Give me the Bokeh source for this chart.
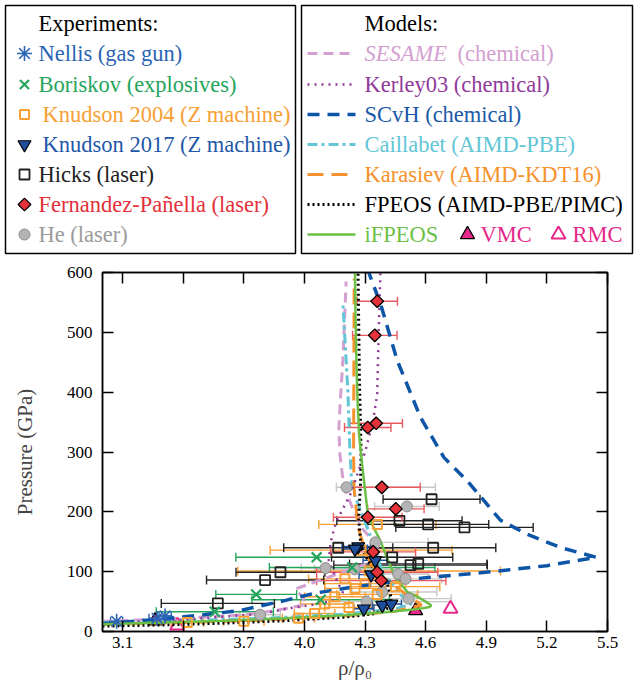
import numpy as np
from bokeh.plotting import figure
from bokeh.models import Range1d, LinearAxis, FixedTicker, NumeralTickFormatter
from bokeh.embed import file_html
from bokeh.resources import INLINE
from bokeh.core.properties import value

FONT = "Liberation Serif"

# ---------------- experimental Hugoniot data (rho/rho0, pressure in GPa, error in rho/rho0)
nellis_rho = [3.07, 3.27, 3.31]
nellis_p = [17, 22, 26]
nellis_err = [0.03, 0.04, 0.03]

boriskov_rho = [3.556, 3.761, 4.06, 4.08, 4.236]
boriskov_p = [33, 62, 124, 53, 107]
boriskov_err = [0.29, 0.20, 0.40, 0.34, 0.41]

knudson04_rho = [4.361, 4.28, 4.32, 4.20, 4.30, 4.25, 4.36, 4.15, 4.45, 4.10, 4.22, 4.05, 3.97, 3.70, 3.42]
knudson04_p = [179, 136, 101, 88, 80, 72, 62, 58, 75, 46, 40, 30, 22, 17, 15]
knudson04_err = [0.29, 0.45, 0.65, 0.18, 0.20, 0.15, 0.20, 0.15, 0.22, 0.12, 0.12, 0.10, 0.08, 0.10, 0.08]

knudson17_rho = [4.266, 4.25, 4.35, 4.33, 4.294, 4.385, 4.43]
knudson17_p = [142, 138, 119, 95, 38, 44, 46]
knudson17_err = [0.08, 0.06, 0.06, 0.06, 0.05, 0.05, 0.05]

hicks_rho = [3.571, 3.805, 3.881, 4.167, 4.434, 4.525, 4.563, 4.637, 4.47, 4.612, 4.792, 4.629]
hicks_p = [47, 86, 99, 140, 124, 111, 113, 140, 185, 179, 174, 221]
hicks_err = [0.28, 0.29, 0.22, 0.27, 0.30, 0.38, 0.34, 0.31, 0.31, 0.30, 0.34, 0.24]

fp_rho = [4.36, 4.348, 4.355, 4.313, 4.383, 4.452, 4.313, 4.34, 4.36, 4.38]
fp_p = [552, 495, 348, 341, 241, 205, 191, 133, 99, 85]
fp_err = [0.10, 0.11, 0.13, 0.115, 0.19, 0.14, 0.17, 0.21, 0.30, 0.32]

he_rho = [4.208, 4.507, 4.351, 4.104, 4.249, 4.464, 4.50, 4.385, 4.516, 4.307, 3.78]
he_p = [241, 209, 149, 106, 104, 96, 88, 66, 55, 50, 28]
he_err_lo = [0.05, 0.16, 0.02, 0.12, 0.20, 0.15, 0.18, 0.15, 0.20, 0.18, 0.10]
he_err_hi = [0.44, 0.16, 0.26, 0.12, 0.20, 0.15, 0.18, 0.27, 0.21, 0.42, 0.10]

vmc_rho = [3.26, 4.55]
vmc_p = [18, 35]
rmc_rho = [3.37, 4.723]
rmc_p = [10, 38]

# ---------------- model Hugoniot curves
sesame_rho = [3.0, 3.3, 3.5, 3.7, 3.8, 3.906, 4.005, 3.99, 3.955, 4.07, 4.17, 4.26, 4.32, 4.36, 4.37, 4.33,
              4.286, 4.236, 4.195, 4.175, 4.17, 4.18, 4.19, 4.206]
sesame_p = [17, 21, 24, 28, 32, 38, 45, 58, 71, 85, 97, 107, 115, 125, 135, 155,
            172, 208, 241, 297, 340, 400, 453, 585]

kerley_rho = [3.0, 3.4, 3.8, 3.906, 4.07, 4.17, 4.19, 4.17, 4.153, 4.12, 4.13, 4.153, 4.178, 4.228, 4.30,
              4.34, 4.36, 4.368, 4.376]
kerley_p = [14, 20, 30, 38, 46, 55, 65, 78, 91, 119, 150, 180, 197, 230, 300, 353, 397, 509, 600]

scvh_rho = [3.0, 3.3, 3.5, 3.68, 3.906, 4.05, 4.236, 4.54, 4.87, 5.2, 5.446, 5.27, 5.1, 4.97, 4.805, 4.69,
            4.574, 4.459, 4.376, 4.318]
scvh_p = [13, 21, 28, 35, 52, 64, 74, 88, 98, 110, 124, 140, 163, 186, 252, 291, 358, 453, 548, 600]

caill_rho = [3.0, 3.4, 3.8, 4.2, 4.45, 4.53, 4.48, 4.434, 4.39, 4.335, 4.277, 4.235, 4.225, 4.215, 4.19]
caill_p = [15, 18, 22, 29, 38, 46, 60, 80, 95, 152, 202, 240, 300, 400, 550]

karas_rho = [3.0, 3.4, 3.8, 4.2, 4.45, 4.58, 4.56, 4.51, 4.465, 4.40, 4.34, 4.30, 4.265, 4.245, 4.243, 4.244,
             4.245, 4.246]
karas_p = [12, 15, 19, 26, 34, 44, 49, 60, 72, 88, 105, 135, 175, 240, 300, 400, 500, 590]

fpeos_rho = [3.0, 3.3, 3.6, 3.9, 4.2, 4.35, 4.42, 4.43, 4.41, 4.33, 4.28, 4.268, 4.278, 4.28, 4.272, 4.265]
fpeos_p = [9, 11, 14, 18, 24, 30, 40, 55, 80, 110, 140, 190, 250, 300, 420, 600]

ifpeos_rho = [3.0, 3.3, 3.6, 3.9, 4.2, 4.4, 4.55, 4.62, 4.627, 4.6, 4.57, 4.51, 4.45, 4.41, 4.375, 4.315,
              4.30, 4.285, 4.27, 4.262, 4.257, 4.253, 4.25]
ifpeos_p = [12, 15, 18, 22, 27, 32, 37, 41, 44, 50, 56, 66, 90, 122, 152, 192, 236, 280, 330, 390, 450, 520, 600]

x_ticks = [3.1, 3.4, 3.7, 4.0, 4.3, 4.6, 4.9, 5.2, 5.5]
y_ticks = [0, 100, 200, 300, 400, 500, 600]

exp_labels = ["Nellis (gas gun)", "Boriskov (explosives)", "Knudson 2004 (Z machine)",
              "Knudson 2017 (Z machine)", "Hicks (laser)", "Fernandez-Pañella (laser)", "He (laser)"]
model_labels = ["Kerley03 (chemical)", "SCvH (chemical)", "Caillabet (AIMD-PBE)",
                "Karasiev (AIMD-KDT16)", "FPEOS (AIMD-PBE/PIMC)", "iFPEOS"]

# ---------------- colours
C_NELLIS = "#2a64b4"
C_BORISKOV = "#25a55c"
C_KN04 = "#f7a035"
C_KN17 = "#1d4f9e"
C_HICKS = "#222222"
C_FP = "#e4313a"
C_HE = "#9b9b9b"
C_SESAME = "#d4a0d0"
C_KERLEY = "#913a99"
C_SCVH = "#0d55a6"
C_CAILL = "#62c6d6"
C_KARAS = "#f5922d"
C_FPEOS = "black"
C_IFPEOS = "#6cbf45"
C_QMC = "#e6288a"

# line styles shared by the curves and their key entries
ST_SESAME = dict(line_color=C_SESAME, line_width=3, line_dash="10 6")
ST_KERLEY = dict(line_color=C_KERLEY, line_width=2.5, line_dash="2 5")
ST_SCVH = dict(line_color=C_SCVH, line_width=3.5, line_dash="12 8")
ST_CAILL = dict(line_color=C_CAILL, line_width=3, line_dash="10 4 3 4")
ST_KARAS = dict(line_color=C_KARAS, line_width=3, line_dash="16 8")
ST_FPEOS = dict(line_color=C_FPEOS, line_width=3, line_dash="2 3")
ST_IFPEOS = dict(line_color=C_IFPEOS, line_width=2.5)

# ---------------- main panel
p = figure(frame_width=505, frame_height=359, x_range=Range1d(3.0, 5.5), y_range=Range1d(0, 600),
           output_backend="svg", toolbar_location=None,
           min_border_left=102, min_border_right=29, min_border_top=12, min_border_bottom=65,
           x_axis_label="ρ/ρ₀", y_axis_label="Pressure (GPa)")
p.grid.visible = False
p.outline_line_color = "black"
p.outline_line_width = 1.5

p.xaxis.ticker = FixedTicker(ticks=x_ticks)
p.yaxis.ticker = FixedTicker(ticks=y_ticks)
p.xaxis.formatter = NumeralTickFormatter(format="0.0")
p.add_layout(LinearAxis(ticker=FixedTicker(ticks=x_ticks)), "above")
p.add_layout(LinearAxis(ticker=FixedTicker(ticks=y_ticks)), "right")

for ax in p.axis:
    ax.major_tick_in = 11
    ax.major_tick_out = 0
    ax.minor_tick_line_color = None
    ax.axis_line_width = 1.5
    ax.major_tick_line_width = 1.5
    ax.major_label_text_font = FONT
    ax.major_label_text_font_size = "17px"
    ax.major_label_text_color = "black"
    ax.axis_label_text_font = FONT
    ax.axis_label_text_font_size = "21px"
    ax.axis_label_text_font_style = "normal"

# mirror axes on top and right carry ticks only
for ax in p.above + p.right:
    ax.major_label_text_color = None
    ax.major_label_text_font_size = "1px"
    ax.major_label_standoff = 0

p.xaxis[0].major_label_standoff = 21
p.xaxis[0].axis_label_standoff = 9
p.xaxis[0].axis_label_text_font_size = "24px"
p.xaxis[0].axis_label_text_font_style = "italic"
p.yaxis[0].major_label_standoff = 10
p.yaxis[0].axis_label_standoff = 27


def errbars(rho, pres, lo, hi, color, width=1.4):
    rho = np.asarray(rho, float)
    x0 = rho - np.asarray(lo, float)
    x1 = rho + np.asarray(hi, float)
    p.segment(x0=x0, y0=pres, x1=x1, y1=pres, line_color=color, line_width=width)
    p.scatter(x=np.concatenate([x0, x1]), y=list(pres) + list(pres), marker="dash",
              angle=np.pi / 2, size=9, line_color=color, line_width=width)


errbars(he_rho, he_p, he_err_lo, he_err_hi, "#c8c8c8")
errbars(knudson04_rho, knudson04_p, knudson04_err, knudson04_err, C_KN04)
errbars(boriskov_rho, boriskov_p, boriskov_err, boriskov_err, C_BORISKOV)
errbars(hicks_rho, hicks_p, hicks_err, hicks_err, C_HICKS)
errbars(fp_rho, fp_p, fp_err, fp_err, "#e85a5f")
errbars(knudson17_rho, knudson17_p, knudson17_err, knudson17_err, C_KN17)
errbars(nellis_rho, nellis_p, nellis_err, nellis_err, C_NELLIS)

# quantum Monte Carlo points sit underneath the model curves
p.scatter(vmc_rho, vmc_p, marker="triangle", size=14, fill_color=C_QMC, line_color="black", line_width=1.3)
p.scatter(rmc_rho, rmc_p, marker="triangle", size=14, fill_color="white", line_color=C_QMC, line_width=2)

# model curves
p.line(sesame_rho, sesame_p, **ST_SESAME)
p.line(caill_rho, caill_p, **ST_CAILL)
p.line(karas_rho, karas_p, **ST_KARAS)
p.line(kerley_rho, kerley_p, **ST_KERLEY)
p.line(fpeos_rho, fpeos_p, **ST_FPEOS)
p.line(scvh_rho, scvh_p, **ST_SCVH)
p.line(ifpeos_rho, ifpeos_p, **ST_IFPEOS)

# measured points
p.scatter(he_rho, he_p, marker="circle", size=11, fill_color="#b4b4b4", line_color="#8c8c8c", line_width=1)
p.scatter(knudson04_rho, knudson04_p, marker="square", size=9, fill_color=None, line_color=C_KN04, line_width=2)
p.scatter(hicks_rho, hicks_p, marker="square", size=10, fill_color=None, line_color=C_HICKS, line_width=1.8)
p.scatter(boriskov_rho, boriskov_p, marker="x", size=14, line_color=C_BORISKOV, line_width=2.2)
p.scatter(nellis_rho, nellis_p, marker="asterisk", size=15, line_color=C_NELLIS, line_width=1.6)
p.scatter(knudson17_rho, knudson17_p, marker="inverted_triangle", size=13, fill_color=C_KN17, line_color="black", line_width=1.2)
p.scatter(fp_rho, fp_p, marker="square", angle=np.pi / 4, size=9, fill_color=C_FP, line_color="black", line_width=1.3)

# ---------------- key panel (pixel coordinates, y downwards)
leg = figure(width=636, height=260, x_range=Range1d(0, 636), y_range=Range1d(260, 0),
             output_backend="svg", toolbar_location=None, min_border=0,
             x_axis_type=None, y_axis_type=None)
leg.grid.visible = False
leg.outline_line_color = None

leg.quad(left=[5, 301], right=[295, 632], top=[5, 5], bottom=[253, 253],
         fill_color=None, line_color="black", line_width=1.5)

rows = [53, 84, 114, 144, 174, 204, 234]
txt = dict(text_font=value(FONT), text_font_size=value("22.5px"), text_baseline="middle", text_align="left")

exp_colors = [C_NELLIS, C_BORISKOV, C_KN04, "#1f58a8", "#222222", C_FP, C_HE]
exp_x = [38, 38, 42, 42, 38, 38, 38]
model_colors = [C_KERLEY, "#1a5aa8", C_CAILL, C_KARAS, "black", C_IFPEOS]

leg.text(x=[38, 364], y=[23, 23], text=["Experiments:", "Models:"], text_color="black", **txt)
leg.text(x=exp_x, y=rows, text=exp_labels, text_color=exp_colors, **txt)
leg.text(x=[364] * 6, y=rows[1:], text=model_labels, text_color=model_colors, **txt)
leg.text(x=[364], y=[rows[0]], text=["SESAME"], text_color=C_SESAME, text_font_style="italic", **txt)
leg.text(x=[457], y=[rows[0]], text=["(chemical)"], text_color=C_SESAME, **txt)
leg.text(x=[480, 572], y=[rows[6], rows[6]], text=["VMC", "RMC"], text_color=C_QMC, **txt)

mx = 24
leg.scatter([mx], [rows[0]], marker="asterisk", size=15, line_color=C_NELLIS, line_width=1.6)
leg.scatter([mx], [rows[1]], marker="x", size=13, line_color=C_BORISKOV, line_width=2.2)
leg.scatter([mx], [rows[2]], marker="square", size=9, fill_color=None, line_color=C_KN04, line_width=2)
leg.scatter([mx], [rows[3]], marker="inverted_triangle", size=13, fill_color=C_KN17, line_color="black", line_width=1.2)
leg.scatter([mx], [rows[4]], marker="square", size=10, fill_color=None, line_color=C_HICKS, line_width=1.8)
leg.scatter([mx], [rows[5]], marker="square", angle=np.pi / 4, size=9, fill_color=C_FP, line_color="black", line_width=1.3)
leg.scatter([mx], [rows[6]], marker="circle", size=11, fill_color="#b4b4b4", line_color="#8c8c8c", line_width=1)
leg.scatter([467], [rows[6]], marker="triangle", size=14, fill_color=C_QMC, line_color="black", line_width=1.3)
leg.scatter([558], [rows[6]], marker="triangle", size=14, fill_color="white", line_color=C_QMC, line_width=2)

for st, yy in zip([ST_SESAME, ST_KERLEY, ST_SCVH, ST_CAILL, ST_KARAS, ST_FPEOS, ST_IFPEOS], rows):
    leg.line([307, 355], [yy, yy], **st)

open("out.html", "w").write(file_html([leg, p], INLINE))
